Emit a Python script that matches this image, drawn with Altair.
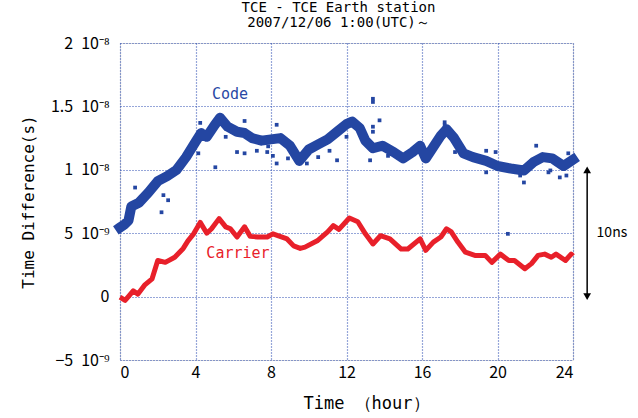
import altair as alt
import pandas as pd

# ---- data (time in hours, difference in ns) ----
code_hours = [0.0, 0.25, 0.45, 0.6, 1.0, 1.5, 2.0, 2.5, 3.0, 3.5, 4.0, 4.3, 4.6, 5.0, 5.3, 5.7,
              6.2, 6.6, 7.0, 7.5, 8.0, 8.5, 9.0, 9.5, 10.0, 10.5, 11.0, 11.5, 12.0, 12.3, 12.7,
              13.0, 13.4, 13.9, 14.5, 15.0, 15.5, 15.9, 16.2, 16.6, 17.0, 17.3, 17.7, 18.2,
              18.7, 19.4, 20.0, 20.7, 21.4, 21.9, 22.4, 22.9, 23.5, 24.0]
code_ns = [5.45, 5.7, 6.0, 7.1, 7.4, 8.2, 9.1, 9.5, 10.0, 11.0, 12.2, 12.9, 12.6, 13.5, 14.1, 13.4,
           13.0, 12.9, 12.5, 12.3, 12.4, 12.5, 11.9, 10.7, 11.6, 12.0, 12.4, 13.0, 13.6, 13.8, 13.3,
           12.3, 11.7, 11.9, 11.4, 10.9, 11.4, 11.9, 10.9, 11.8, 12.7, 13.2, 12.5, 11.3,
           11.0, 10.7, 10.3, 10.1, 9.95, 10.6, 11.0, 10.9, 10.3, 10.8]

outlier_hours = [0.8, 2.2, 2.3, 2.55, 4.15, 4.25, 5.05, 5.6, 6.2, 6.6, 6.6, 7.25, 7.8, 7.85, 8.1,
                 8.3, 8.3, 8.9, 9.9, 10.5, 11.1, 11.5, 12.0, 13.25, 13.4, 13.4, 13.4, 13.4, 13.75,
                 14.2, 17.2, 17.2, 17.75, 19.4, 19.4, 19.9, 20.55, 21.2, 21.4, 22.05, 22.7, 22.8,
                 23.3, 23.65, 23.75]
outlier_ns = [8.6, 6.65, 8.0, 7.6, 11.3, 13.7, 10.2, 12.6, 11.4, 13.85, 11.3, 11.5, 11.4, 11.85, 11.1,
              13.55, 10.5, 10.9, 10.5, 11.0, 11.5, 10.75, 12.6, 10.75, 15.6, 15.35, 13.4, 13.0, 13.9,
              11.1, 13.75, 13.5, 11.4, 11.5, 9.8, 11.4, 4.95, 9.55, 9.0, 11.9, 9.8, 9.95,
              9.4, 9.55, 11.3]

carrier_hours = [0.0, 0.27, 0.5, 0.7, 0.95, 1.3, 1.7, 2.0, 2.4, 2.9, 3.35, 3.6, 3.9, 4.25, 4.6, 4.85,
                 5.25, 5.6, 5.85, 6.2, 6.6, 6.9, 7.3, 7.8, 8.1, 8.85, 9.2, 9.55, 9.8, 10.45, 11.0,
                 11.3, 11.6, 12.15, 12.6, 13.0, 13.4, 13.8, 14.3, 14.9, 15.25, 15.9, 16.2, 16.6,
                 17.0, 17.3, 17.55, 17.9, 18.3, 18.8, 19.35, 19.7, 20.15, 20.6, 20.9, 21.45, 21.8,
                 22.15, 22.5, 22.85, 23.1, 23.6, 23.9, 24.0]
carrier_ns = [-0.05, -0.3, 0.1, 0.45, 0.2, 0.9, 1.4, 2.85, 2.7, 3.1, 3.8, 4.4, 4.95, 5.85, 5.0, 5.35,
              6.15, 5.5, 5.35, 4.7, 5.5, 4.75, 4.7, 4.7, 4.95, 4.55, 4.0, 3.8, 3.9, 4.4, 5.1,
              5.6, 5.3, 6.2, 5.9, 4.95, 4.15, 4.8, 4.55, 3.75, 3.75, 4.55, 3.65, 4.3,
              4.7, 5.35, 5.1, 4.3, 3.5, 3.25, 3.25, 2.7, 3.35, 2.85, 2.85, 2.2, 2.6,
              3.25, 3.35, 3.1, 3.35, 2.85, 3.35, 3.2]

y_ticks = [-5, 0, 5, 10, 15, 20]
x_ticks = [0, 4, 8, 12, 16, 20, 24]
y_tick_labels = {-5: "\u22125\u200210\u207b\u2079", 0: "0", 5: "5\u200210\u207b\u2079",
                 10: "1\u200210\u207b\u2078", 15: "1.5\u200210\u207b\u2078",
                 20: "2\u200210\u207b\u2078"}

series_labels = pd.DataFrame({"h": [5.83, 6.25], "v": [16.0, 3.4],
                              "t": ["Code", "Carrier"], "c": ["#2848a4", "#e8202a"]})
arrow = pd.DataFrame({"h": [24.75], "v1": [10.0], "v2": [0.0]})
arrow_label = pd.DataFrame({"h": [25.25], "v": [5.0], "t": ["10ns"]})

BLUE = "#2446a2"
RED = "#e8202a"
GRID = "#2f4fb4"
MONO = "DejaVu Sans Mono"
TICKF = "Noto Sans CJK JP"

label_expr = " : ".join(
    [f"datum.value == {k} ? '{v}'" for k, v in y_tick_labels.items()]) + " : ''"

xs = alt.Scale(domain=[0, 24], nice=False, zero=False)
ys = alt.Scale(domain=[-5, 20], nice=False, zero=False)

x_axis = alt.Axis(values=x_ticks, title="Time \uff08hour\uff09", grid=True, ticks=False,
                  domain=False, labelFont=TICKF, labelFontSize=16, labelColor="black",
                  labelPadding=4, titleFont=MONO, titleFontSize=17, titleFontWeight="normal",
                  titleColor="black", titlePadding=15, titleX=246, gridColor=GRID,
                  gridDash=[1, 2], gridWidth=1.2)
y_axis = alt.Axis(values=y_ticks, title="Time Difference(s)", grid=True, ticks=False,
                  domain=False, labelExpr=label_expr, labelFont=TICKF, labelFontSize=16,
                  labelColor="black", labelPadding=11, titleFont=MONO, titleFontSize=16,
                  titleFontWeight="normal", titleColor="black", titleX=-84,
                  gridColor=GRID, gridDash=[1, 2], gridWidth=1.2)

code_df = pd.DataFrame({"h": code_hours, "v": code_ns})
out_df = pd.DataFrame({"h": outlier_hours, "v": outlier_ns})
car_df = pd.DataFrame({"h": carrier_hours, "v": carrier_ns})

base_code = alt.Chart(code_df).mark_line(color=BLUE, strokeWidth=10, strokeJoin="round",
                                         strokeCap="square").encode(
    x=alt.X("h:Q", scale=xs, axis=x_axis),
    y=alt.Y("v:Q", scale=ys, axis=y_axis),
)
outliers = alt.Chart(out_df).mark_square(color=BLUE, size=14, opacity=1).encode(
    x=alt.X("h:Q", scale=xs), y=alt.Y("v:Q", scale=ys))
carrier = alt.Chart(car_df).mark_line(color=RED, strokeWidth=5, strokeJoin="round").encode(
    x=alt.X("h:Q", scale=xs), y=alt.Y("v:Q", scale=ys))

labels = alt.Chart(series_labels).mark_text(font=MONO, fontSize=15, align="center",
                                            baseline="middle").encode(
    x=alt.X("h:Q", scale=xs), y=alt.Y("v:Q", scale=ys), text="t:N",
    color=alt.Color("c:N", scale=None))

arrow_line = alt.Chart(arrow).mark_rule(color="black", strokeWidth=1.5, clip=False).encode(
    x=alt.X("h:Q", scale=xs), y=alt.Y("v1:Q", scale=ys), y2="v2:Q")
arrow_top = alt.Chart(arrow).mark_point(shape="triangle-up", filled=True, color="black",
                                        size=60, opacity=1, clip=False).encode(
    x=alt.X("h:Q", scale=xs), y=alt.Y("v1:Q", scale=ys))
arrow_bot = alt.Chart(arrow).mark_point(shape="triangle-down", filled=True, color="black",
                                        size=60, opacity=1, clip=False).encode(
    x=alt.X("h:Q", scale=xs), y=alt.Y("v2:Q", scale=ys))
arrow_txt = alt.Chart(arrow_label).mark_text(font=TICKF, fontSize=14, align="left",
                                             baseline="middle", color="black", clip=False).encode(
    x=alt.X("h:Q", scale=xs), y=alt.Y("v:Q", scale=ys), text="t:N")

chart = alt.layer(base_code, outliers, carrier, labels, arrow_line, arrow_top, arrow_bot,
                  arrow_txt).properties(
    width=453, height=317,
    autosize=alt.AutoSizeParams(type="none"),
    padding={"left": 120, "top": 43, "right": 65, "bottom": 58},
    title=alt.TitleParams(text=["TCE - TCE Earth station", "2007/12/06 1:00(UTC)\uff5e"],
                          font=MONO, fontSize=14, fontWeight="normal", color="black",
                          anchor="middle", offset=5, dx=-8, lineHeight=15),
).configure_view(stroke=BLUE, strokeWidth=1.5).configure(background="white")

chart.save("out.html", embed_options={"renderer": "svg", "actions": False})
